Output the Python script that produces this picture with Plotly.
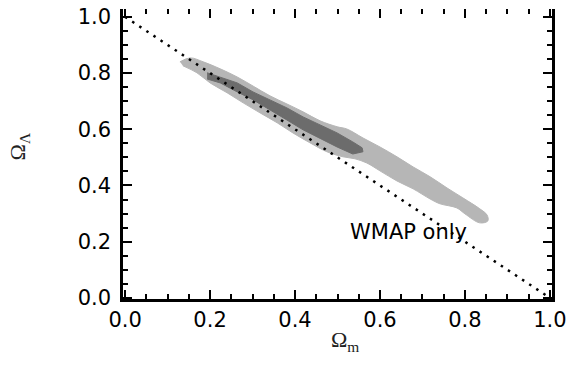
import plotly.graph_objects as go

# Outer (light) WMAP-only confidence region: Omega_m, Omega_Lambda vertices
outer_m = [0.129, 0.153, 0.184, 0.224, 0.264, 0.301, 0.341, 0.381, 0.419, 0.459,
           0.499, 0.522, 0.560, 0.600, 0.640, 0.678, 0.718, 0.758, 0.795, 0.835,
           0.852, 0.854,
           0.835, 0.800, 0.781, 0.741, 0.718, 0.678, 0.640, 0.600, 0.569, 0.541,
           0.513, 0.475, 0.435, 0.395, 0.358, 0.318, 0.278, 0.240, 0.200, 0.169,
           0.136]
outer_l = [0.840, 0.854, 0.840, 0.815, 0.786, 0.754, 0.719, 0.690, 0.662, 0.630,
           0.609, 0.601, 0.569, 0.537, 0.502, 0.466, 0.431, 0.391, 0.356, 0.317,
           0.295, 0.274,
           0.267, 0.299, 0.320, 0.335, 0.352, 0.388, 0.416, 0.452, 0.480, 0.495,
           0.502, 0.520, 0.552, 0.587, 0.623, 0.658, 0.694, 0.730, 0.765, 0.801,
           0.826]

# Inner (dark) confidence region
inner_m = [0.193, 0.224, 0.264, 0.301, 0.341, 0.381, 0.419, 0.459, 0.499, 0.536,
           0.558, 0.560,
           0.536, 0.499, 0.459, 0.419, 0.381, 0.341, 0.301, 0.264, 0.224, 0.193]
inner_l = [0.801, 0.786, 0.765, 0.733, 0.705, 0.676, 0.644, 0.616, 0.587, 0.555,
           0.534, 0.520,
           0.512, 0.537, 0.569, 0.598, 0.633, 0.669, 0.705, 0.733, 0.765, 0.779]

# Flat universe line: Omega_m + Omega_Lambda = 1
flat_m = [0.0, 1.0]
flat_l = [1.0 - m for m in flat_m]

tick_vals = [0.0, 0.2, 0.4, 0.6, 0.8, 1.0]
tick_text = ["0.0", "0.2", "0.4", "0.6", "0.8", "1.0"]

label_text = "WMAP only"
label_pos = (0.666, 0.235)

fig = go.Figure()
fig.add_trace(go.Scatter(x=outer_m, y=outer_l, fill="toself", mode="lines",
                         fillcolor="#b6b6b6", line=dict(color="#b6b6b6", width=1),
                         line_shape="spline",
                         hoverinfo="skip", showlegend=False))
fig.add_trace(go.Scatter(x=inner_m, y=inner_l, fill="toself", mode="lines",
                         fillcolor="#6c6c6c", line=dict(color="#6c6c6c", width=1),
                         hoverinfo="skip", showlegend=False))
fig.add_trace(go.Scatter(x=flat_m, y=flat_l, mode="lines", xaxis="x2",
                         line=dict(color="black", width=2.5, dash="2.5px,6px"),
                         hoverinfo="skip", showlegend=False))

font_ticks = dict(family="DejaVu Sans, Arial, sans-serif", size=21, color="black")
minor_ticks = dict(dtick=0.05, ticks="inside", ticklen=5, tickwidth=1.5,
                   tickcolor="black", showgrid=False)

fig.update_layout(
    template="none",
    width=567, height=382,
    margin=dict(l=123, r=15, t=9, b=83),
    paper_bgcolor="white", plot_bgcolor="white",
    xaxis=dict(range=[-0.005, 1.005], tickvals=tick_vals, ticktext=tick_text,
               ticks="inside", ticklen=9, tickwidth=2, tickcolor="black",
               showline=True, linewidth=2.5, linecolor="black", mirror=False,
               showgrid=False, zeroline=False, tickfont=font_ticks,
               ticklabelstandoff=0, ticklabeloverflow="allow",
               automargin=False, minor=minor_ticks),
    xaxis2=dict(matches="x", overlaying="x", side="top", anchor="y",
                tickvals=tick_vals, showticklabels=False,
                ticks="inside", ticklen=9, tickwidth=2, tickcolor="black",
                showline=False, showgrid=False, zeroline=False,
                automargin=False, minor=minor_ticks),
    yaxis=dict(range=[-0.004, 1.028], tickvals=tick_vals, ticktext=tick_text,
               ticks="inside", ticklen=9, tickwidth=2, tickcolor="black",
               showline=True, linewidth=2.5, linecolor="black", mirror="ticks",
               showgrid=False, zeroline=False, tickfont=font_ticks,
               ticklabelstandoff=5, ticklabeloverflow="allow",
               automargin=False, minor=minor_ticks),
    annotations=[
        dict(x=label_pos[0], y=label_pos[1], xref="x", yref="y", text=label_text,
             showarrow=False, font=dict(family="DejaVu Sans, Arial, sans-serif",
                                        size=21, color="black")),
        dict(x=0.517, y=-0.2, xref="paper", yref="paper",
             text="Ω<sub>m</sub>", showarrow=False,
             font=dict(family="Liberation Serif, Times New Roman, serif", size=22,
                       color="#222222")),
        dict(x=-0.279, y=0.527, xref="paper", yref="paper",
             text="Ω<sub>Λ</sub>", showarrow=False, textangle=-90,
             font=dict(family="Liberation Serif, Times New Roman, serif", size=22,
                       color="#222222")),
    ],
)

# Remove the browser's default 8px body margin so the figure sits at (0, 0).
fig.write_html("out.html", config={"displayModeBar": False},
               post_script="document.body.style.margin='0px';")
